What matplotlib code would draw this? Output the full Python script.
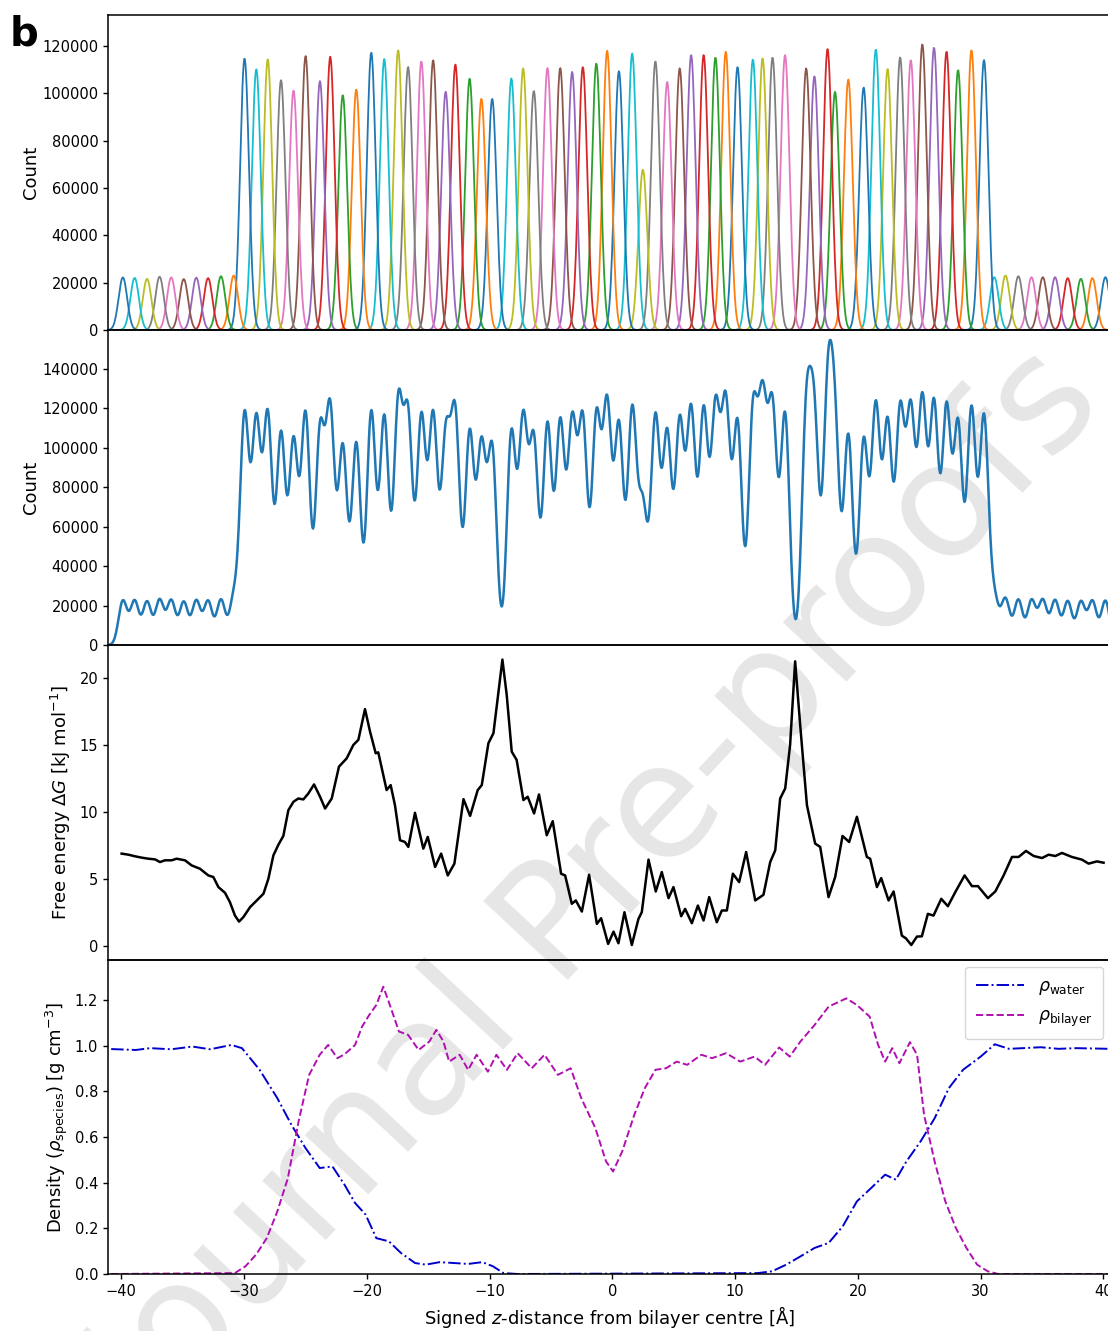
import numpy as np
import matplotlib.pyplot as plt

# umbrella windows: centre [A] and peak count [x1000]
win_z = [-39.86, -38.90, -37.89, -36.87, -35.92, -34.90, -33.88, -32.92, -31.87, -30.83,
         -29.95, -28.99, -28.06, -26.98, -25.96, -24.98, -23.81, -22.97, -21.95, -20.85,
         -19.63, -18.57, -17.44, -16.63, -15.55, -14.59, -13.57, -12.78, -11.62, -10.66,
         -9.78, -8.22, -7.26, -6.39, -5.28, -4.24, -3.27, -2.40, -1.30, -0.42,
         0.54, 1.62, 2.49, 3.51, 4.47, 5.49, 6.42, 7.44, 8.40, 9.24,
         10.20, 11.45, 12.24, 13.05, 14.07, 15.79, 16.46, 17.53, 18.14, 19.22,
         20.47, 21.46, 22.42, 23.44, 24.31, 25.25, 26.20, 27.22, 28.16, 29.25,
         30.27, 31.11, 32.02, 33.07, 34.14, 35.06, 36.06, 37.09, 38.16, 39.10, 40.16]
win_n = [22.2, 22.0, 21.6, 22.5, 22.2, 21.5, 22.1, 21.9, 22.7, 23.0,
         114.7, 110.2, 114.3, 105.5, 101.1, 115.7, 105.1, 115.4, 99.2, 101.6,
         117.1, 114.4, 118.2, 111.1, 113.5, 114.0, 100.6, 112.1, 106.1, 97.6,
         97.6, 106.2, 110.5, 101.0, 110.6, 110.7, 109.0, 111.1, 112.6, 117.9,
         109.3, 116.8, 67.7, 113.5, 104.8, 110.5, 116.1, 116.1, 115.1, 117.5,
         111.1, 114.3, 114.7, 115.1, 116.1, 110.5, 107.2, 118.6, 100.6, 105.8,
         102.4, 118.5, 110.2, 115.1, 114.0, 120.7, 119.3, 117.5, 109.8, 118.2,
         114.0, 22.3, 23.0, 22.7, 22.3, 22.3, 22.3, 21.9, 21.6, 21.9, 22.3]
win_w = [0.35 if n < 50 else 0.36 for n in win_n]  # spread of each histogram [A]

# free energy profile
fe_z = [-39.96, -39.41, -38.87, -38.33, -37.79, -37.24, -36.84, -36.43, -35.89, -35.48,
        -34.80, -34.26, -33.58, -32.90, -32.49, -32.08, -31.54, -31.14, -30.73, -30.40,
        -30.05, -29.50, -28.96, -28.41, -28.01, -27.60, -27.19, -26.79, -26.38, -25.97,
        -25.57, -25.16, -24.75, -24.29, -23.80, -23.39, -22.85, -22.26, -21.63, -21.09,
        -20.68, -20.14, -19.73, -19.27, -19.06, -18.38, -18.05, -17.70, -17.29, -16.89,
        -16.61, -16.07, -15.39, -15.03, -14.43, -13.94, -13.40, -12.86, -12.12, -11.58,
        -10.96, -10.63, -10.09, -9.68, -8.95, -8.60, -8.19, -7.79, -7.24, -6.89,
        -6.37, -5.97, -5.34, -4.85, -4.17, -3.84, -3.30, -2.97, -2.48, -1.89,
        -1.26, -0.91, -0.34, 0.10, 0.50, 0.99, 1.59, 2.13, 2.40, 2.95,
        3.54, 4.03, 4.58, 4.98, 5.61, 5.93, 6.48, 6.97, 7.43, 7.89,
        8.51, 8.92, 9.33, 9.82, 10.33, 10.90, 11.64, 12.31, 12.86, 13.27,
        13.67, 14.08, 14.48, 14.89, 15.30, 15.85, 16.52, 16.93, 17.61, 18.15,
        18.75, 19.29, 19.92, 20.73, 21.00, 21.55, 21.90, 22.50, 22.91, 23.58,
        23.91, 24.35, 24.81, 25.21, 25.70, 26.16, 26.79, 27.33, 27.93, 28.69,
        29.29, 29.78, 30.59, 31.19, 31.87, 32.55, 33.09, 33.69, 34.32, 35.00,
        35.53, 36.08, 36.62, 37.43, 38.25, 38.79, 39.47, 40.01]
fe = [6.88, 6.80, 6.68, 6.58, 6.50, 6.45, 6.25, 6.38, 6.38, 6.50,
      6.38, 6.00, 5.75, 5.25, 5.13, 4.38, 3.95, 3.25, 2.25, 1.80,
      2.13, 2.88, 3.38, 3.88, 5.00, 6.75, 7.55, 8.20, 10.13, 10.75,
      11.00, 10.93, 11.38, 12.05, 11.13, 10.25, 11.00, 13.38, 14.00, 15.00,
      15.38, 17.68, 16.00, 14.38, 14.45, 11.63, 12.00, 10.50, 7.88, 7.75,
      7.38, 9.93, 7.25, 8.13, 5.88, 6.88, 5.25, 6.13, 10.95, 9.70,
      11.63, 12.00, 15.13, 15.88, 21.38, 18.75, 14.50, 13.88, 10.88, 11.13,
      9.88, 11.30, 8.25, 9.30, 5.38, 5.25, 3.13, 3.38, 2.55, 5.30,
      1.63, 2.05, 0.13, 1.05, 0.18, 2.50, 0.05, 2.00, 2.50, 6.43,
      4.05, 5.50, 3.55, 4.38, 2.20, 2.75, 1.68, 3.00, 1.88, 3.63,
      1.75, 2.63, 2.63, 5.38, 4.75, 7.00, 3.38, 3.80, 6.25, 7.13,
      11.00, 11.75, 15.00, 21.25, 16.50, 10.50, 7.63, 7.38, 3.63, 5.13,
      8.20, 7.75, 9.63, 6.63, 6.50, 4.38, 5.05, 3.38, 4.05, 0.75,
      0.55, 0.05, 0.68, 0.70, 2.38, 2.25, 3.50, 2.95, 4.00, 5.25,
      4.45, 4.45, 3.55, 4.05, 5.25, 6.63, 6.63, 7.08, 6.70, 6.55,
      6.80, 6.70, 6.93, 6.63, 6.43, 6.13, 6.30, 6.20]

# density profiles
water_z = [-40.81, -38.80, -37.64, -35.92, -34.19, -32.75, -31.02, -30.16, -28.72, -27.28,
           -26.13, -24.98, -23.83, -22.79, -21.81, -20.95, -20.09, -19.22, -18.19, -17.21,
           -16.06, -15.19, -14.04, -12.89, -11.74, -10.59, -9.73, -8.86, -7.71, 11.86,
           13.02, 14.17, 15.32, 16.47, 17.62, 18.77, 19.92, 21.07, 22.22, 23.09,
           23.95, 25.10, 26.25, 27.41, 28.56, 30.00, 31.15, 32.30, 33.45, 34.89,
           36.33, 37.77, 40.53]
water = [0.985, 0.981, 0.989, 0.984, 0.996, 0.984, 1.003, 0.989, 0.894, 0.770,
         0.653, 0.551, 0.464, 0.471, 0.391, 0.311, 0.260, 0.157, 0.143, 0.092,
         0.048, 0.041, 0.052, 0.048, 0.044, 0.052, 0.034, 0.004, 0.0, 0.004,
         0.012, 0.041, 0.077, 0.114, 0.136, 0.209, 0.318, 0.376, 0.435, 0.413,
         0.493, 0.580, 0.682, 0.814, 0.894, 0.952, 1.006, 0.986, 0.989, 0.993,
         0.986, 0.989, 0.986]
bil_z = [-40.81, -30.74, -29.87, -29.01, -28.14, -27.28, -26.42, -25.55, -24.69, -23.83,
         -23.14, -22.39, -21.81, -20.95, -20.38, -19.80, -19.22, -18.65, -18.07, -17.38,
         -16.63, -15.77, -14.90, -14.33, -13.75, -13.29, -12.43, -11.74, -11.05, -10.13,
         -9.44, -8.58, -7.71, -6.56, -5.52, -4.43, -3.39, -2.53, -1.38, -0.51,
         0.06, 0.81, 1.79, 2.65, 3.51, 4.38, 5.24, 6.10, 7.26, 8.12,
         9.27, 10.42, 11.58, 12.44, 13.59, 14.45, 15.32, 16.47, 17.62, 19.06,
         19.92, 20.96, 21.65, 22.22, 22.80, 23.38, 24.24, 24.82, 25.39, 26.25,
         27.12, 27.98, 28.84, 29.71, 30.57, 31.43, 40.53]
bil = [0.0, 0.004, 0.034, 0.085, 0.157, 0.274, 0.420, 0.668, 0.872, 0.960,
       1.003, 0.945, 0.962, 1.003, 1.083, 1.134, 1.178, 1.258, 1.171, 1.062,
       1.047, 0.981, 1.018, 1.069, 1.018, 0.930, 0.960, 0.894, 0.960, 0.886,
       0.960, 0.894, 0.967, 0.901, 0.960, 0.872, 0.901, 0.770, 0.639, 0.493,
       0.449, 0.537, 0.697, 0.814, 0.894, 0.901, 0.930, 0.916, 0.960, 0.945,
       0.967, 0.930, 0.952, 0.916, 0.992, 0.952, 1.018, 1.090, 1.171, 1.207,
       1.178, 1.127, 1.003, 0.930, 0.989, 0.923, 1.015, 0.960, 0.697, 0.493,
       0.318, 0.201, 0.114, 0.041, 0.012, 0.0, 0.0]

XMIN, XMAX = -41.07, 40.55

W, H = 1108, 1331
fig = plt.figure(figsize=(W / 100, H / 100), dpi=100)

# panel edges in pixels from the top
left = 108 / W
edges = [15, 330, 645, 960, 1274]
axs = []
for i in range(4):
    b = 1 - edges[i + 1] / H
    h = (edges[i + 1] - edges[i]) / H
    ax = fig.add_axes([left, b, 1.002 - left, h], sharex=axs[0] if axs else None)
    ax.set_facecolor('none')
    for s in ax.spines.values():
        s.set_linewidth(1.1)
    axs.append(ax)
ax1, ax2, ax3, ax4 = axs

# watermark behind everything
fig.text(0.54, 0.33, 'Journal Pre-proofs', fontsize=114, color='#e6e6e6',
         rotation=47, ha='center', va='center', zorder=-5)

# histograms of each window, drawn right to left like the original
z = np.arange(XMIN, XMAX + 0.05, 0.05)
hists = []
for c, n, w in zip(win_z, win_n, win_w):
    hists.append(n * 1000 * np.exp(-0.5 * ((z - c) / w) ** 2))
for hst in hists[::-1]:
    ax1.plot(z, hst, lw=1.3)
ax1.set_ylim(0, 133000)
ax1.set_yticks(np.arange(0, 120001, 20000))
ax1.set_ylabel('Count', fontsize=13)
ax1.yaxis.set_label_coords(-0.068, 0.5)

total = np.sum(hists, axis=0)
ax2.plot(z, total, color='C0', lw=1.8)
ax2.set_ylim(0, 159500)
ax2.set_yticks(np.arange(0, 140001, 20000))
ax2.set_ylabel('Count', fontsize=13)
ax2.yaxis.set_label_coords(-0.068, 0.5)

ax3.plot(fe_z, fe, color='k', lw=1.8)
ax3.set_ylim(-1.07, 22.47)
ax3.set_yticks([0, 5, 10, 15, 20])
ax3.set_ylabel(r'Free energy $\mathit{\Delta G}$ [kJ mol$^{-1}$]', fontsize=13)
ax3.yaxis.set_label_coords(-0.035, 0.5)

ax4.plot(water_z, water, color='mediumblue', ls='-.', lw=1.4, label=r'$\rho_{\rm water}$')
ax4.plot(bil_z, bil, color='#b010b0', ls='--', lw=1.4, label=r'$\rho_{\rm bilayer}$')
ax4.set_ylim(0, 1.375)
ax4.set_yticks(np.arange(0, 1.21, 0.2))
ax4.set_yticklabels([f'{v:.1f}' for v in np.arange(0, 1.21, 0.2)])
ax4.set_ylabel(r'Density ($\rho_{\rm species}$) [g cm$^{-3}$]', fontsize=13)
ax4.yaxis.set_label_coords(-0.038, 0.5)
ax4.legend(loc='upper right', fontsize=12.5, handlelength=2.8, borderpad=0.6,
           labelspacing=0.55, borderaxespad=0.4)

ax4.set_xlim(XMIN, XMAX)
ax4.set_xticks(np.arange(-40, 41, 10))
ax4.set_xlabel('Signed $z$-distance from bilayer centre [Å]', fontsize=13)
for ax in axs:
    ax.tick_params(labelsize=10.5, width=1.0)
for ax in axs[:3]:
    ax.tick_params(axis='x', bottom=False, labelbottom=False)

fig.text(0.009, 0.989, 'b', fontsize=29, fontweight='bold', va='top')

fig.savefig('out.png', dpi=100)
